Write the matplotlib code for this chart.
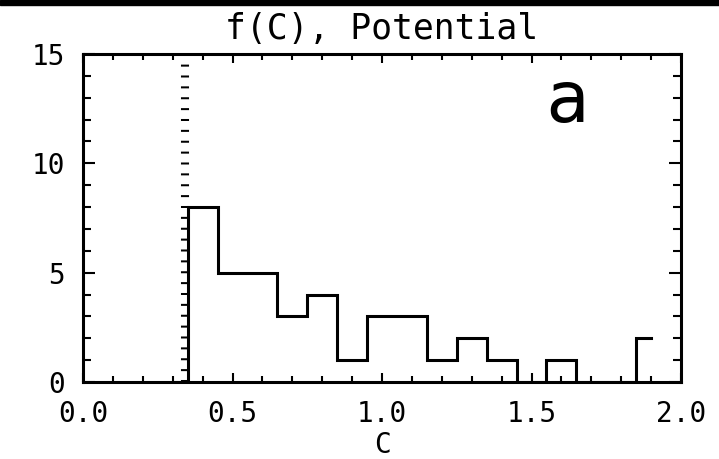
import matplotlib
matplotlib.use("Agg")
import matplotlib.pyplot as plt
from matplotlib.patches import Rectangle
from matplotlib.ticker import MultipleLocator

# histogram of C, bin centres and counts (IDL psym=10 style)
c_centres = [0.3, 0.4, 0.5, 0.6, 0.7, 0.8, 0.9, 1.0, 1.1, 1.2, 1.3, 1.4, 1.5, 1.6, 1.7, 1.8, 1.9]
counts = [0, 8, 5, 5, 3, 4, 1, 3, 3, 1, 2, 1, 0, 1, 0, 0, 2]
c_min = 0.34  # dotted marker line
x_ticks = [0.0, 0.5, 1.0, 1.5, 2.0]
y_ticks = [0, 5, 10, 15]
title = "f(C), Potential"
panel = "a"

font = "DejaVu Sans Mono"

fig = plt.figure(figsize=(7.19, 4.59), dpi=100)
ax = fig.add_axes([83 / 719, 1 - 382 / 459, 598 / 719, 328 / 459])

ax.step(c_centres, counts, where="mid", color="black", lw=2.2, solid_joinstyle="miter")
ax.axvline(c_min, color="black", lw=5.8, linestyle=(0, (0.25, 1.1)),
           dash_capstyle="butt")

ax.set_xlim(0, 2)
ax.set_ylim(0, 15)
ax.set_xticks(x_ticks)
ax.set_xticklabels([f"{v:.1f}" for v in x_ticks])
ax.set_yticks(y_ticks)
ax.set_yticklabels([str(v) for v in y_ticks])
ax.xaxis.set_minor_locator(MultipleLocator(0.1))
ax.yaxis.set_minor_locator(MultipleLocator(1))

for s in ax.spines.values():
    s.set_linewidth(2.2)
ax.tick_params(which="both", direction="in", top=True, right=True, width=1.5,
               labelsize=20, colors="black")
ax.tick_params(axis="x", which="major", length=6.5, pad=13)
ax.tick_params(axis="x", which="minor", length=4.3)
ax.tick_params(axis="y", which="major", length=8.5, pad=13)
ax.tick_params(axis="y", which="minor", length=6)
for lab in ax.get_xticklabels() + ax.get_yticklabels():
    lab.set_fontfamily(font)

ax.set_xlabel("C", fontsize=20, family=font, labelpad=2)
ax.set_title(title, fontsize=25, family=font, pad=11)
ax.text(1.62, 11.9, panel, fontsize=52, family=font, ha="center", va="baseline")

# black strip along the top edge of the original screenshot
fig.patches.append(Rectangle((0, 1 - 5 / 459), 1, 5 / 459, transform=fig.transFigure,
                             color="black", zorder=10))

fig.savefig("out.png", dpi=100, facecolor="white")
